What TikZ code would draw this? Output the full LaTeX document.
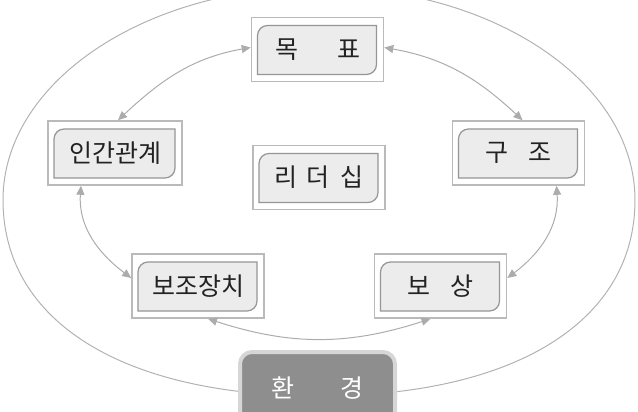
\documentclass[tikz,border=0pt]{standalone}
\usepackage{fontspec}
\newfontfamily\kr{Noto Sans CJK KR}
\usetikzlibrary{arrows.meta,calc}
\definecolor{linegray}{RGB}{172,172,172}
\definecolor{outergray}{RGB}{178,178,178}
\definecolor{framegray}{RGB}{186,186,186}
\definecolor{innerfill}{RGB}{236,236,236}
\definecolor{innerdraw}{RGB}{150,150,150}
\definecolor{envfill}{RGB}{142,142,142}
\definecolor{envdraw}{RGB}{214,214,214}
\definecolor{txt}{RGB}{34,34,34}
\begin{document}
\begin{tikzpicture}[x=1pt,y=1pt,
  kbox/.style={draw=framegray, line width=1.6pt, fill=white,
    minimum width=132pt, minimum height=64pt, inner sep=0pt,
    font=\kr\fontsize{25}{25}\selectfont, text=txt,
    path picture={\draw[innerdraw, fill=innerfill, line width=1.2pt]
      ($(path picture bounding box.south west)+(6,7)$) --
      ($(path picture bounding box.north west)+(6,-18)$)
      arc[start angle=180,end angle=90,radius=10] --
      ($(path picture bounding box.north east)+(-7,-8)$) --
      ($(path picture bounding box.south east)+(-7,17)$)
      arc[start angle=0,end angle=-90,radius=10] -- cycle;}},
  envbox/.style={draw=envdraw, line width=4pt, fill=envfill, rounded corners=12pt,
    minimum width=155pt, minimum height=72pt, inner sep=0pt,
    font=\kr\fontsize{25}{25}\selectfont, text=white},
  conn/.style={draw=linegray, line width=1pt,
    {Triangle[length=9pt,width=8pt]}-{Triangle[length=9pt,width=8pt]}},
  outerline/.style={draw=outergray, line width=1pt}]
\useasboundingbox (0,0) rectangle (638,-412);
\clip (0,0) rectangle (638,-412);
% outer ring
\draw[outerline] (319,13) .. controls (144.5,13) and (3,-82.4) .. (3,-200)
  .. controls (3,-321.5) and (123,-396) .. (319,-396)
  .. controls (515,-396) and (635,-321.5) .. (635,-200)
  .. controls (635,-82.4) and (493.5,13) .. (319,13) -- cycle;
% boxes
\node[kbox] (mok) at (317.5,-49.5) {목\hspace{39pt}표};
\node[kbox, minimum width=134pt] (ingan) at (115,-153) {인간관계};
\node[kbox] (gujo) at (518.5,-153) {구\hspace{20pt}조};
\node[kbox] (leader) at (319,-177.5) {리\hspace{9pt}더\hspace{11pt}십};
\node[kbox] (bojo) at (198,-286) {보조장치};
\node[kbox] (bosang) at (440.5,-286) {보\hspace{20pt}상};
\node[envbox] (env) at (317.5,-388) {환\hspace{46pt}경};
% connectors
\draw[conn] ([yshift=2pt]mok.west) to[out=190,in=43] ([xshift=3pt]ingan.north);
\draw[conn] ([xshift=-34pt]ingan.south) to[out=266,in=143] ([yshift=8pt]bojo.west);
\draw[conn] ([xshift=10pt]bojo.south) to[out=-18,in=198] ([xshift=-10pt]bosang.south);
\draw[conn] ([yshift=8pt]bosang.east) to[out=37,in=-86] ([xshift=38pt]gujo.south);
\draw[conn] ([xshift=4pt]gujo.north) to[out=137,in=-10] ([yshift=2pt]mok.east);
\end{tikzpicture}
\end{document}
